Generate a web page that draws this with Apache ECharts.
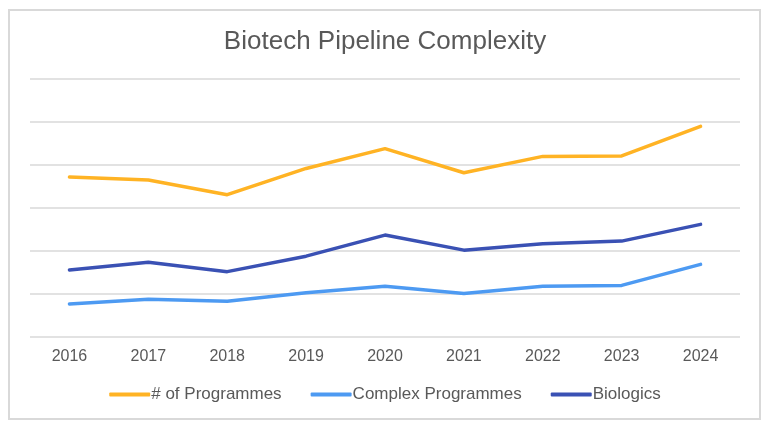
<!DOCTYPE html>
<html>
<head>
<meta charset="utf-8">
<script src="https://cdn.jsdelivr.net/npm/echarts@6/dist/echarts.min.js"></script>
<style>
html,body{margin:0;padding:0;background:#fff;}
#wrap{position:absolute;left:8px;top:9px;width:753px;height:411px;border:2px solid #d9d9d9;box-sizing:border-box;}
#chart{position:absolute;left:0;top:0;width:770px;height:426px;}
</style>
</head>
<body>
<div id="wrap"></div>
<div id="chart"></div>
<script>
const years = ['2016','2017','2018','2019','2020','2021','2022','2023','2024'];
const programmes = [372, 365, 331, 392, 438, 382, 420, 421, 490];
const complexProgrammes = [77, 88, 83, 103, 118, 101, 118, 120, 169];
const biologics = [156, 174, 152, 188, 237, 202, 217, 223, 262];

const chart = echarts.init(document.getElementById('chart'), null, {renderer:'canvas'});
const font = 'Liberation Sans, Arial, sans-serif';
function line(name, data, color){
  return {name, type:'line', data, showSymbol:false, symbol:'none',
    lineStyle:{width:3.5, color, cap:'round', join:'round'}, itemStyle:{color}};
}
chart.setOption({
  animation:false,
  title:{text:'Biotech Pipeline Complexity', left:'center', top:24,
    textStyle:{fontFamily:font, fontSize:26, fontWeight:'normal', color:'#595959'}},
  grid:{left:30, right:30, top:79, bottom:89},
  legend:{top:381, left:'center', icon:'roundRect', itemWidth:41, itemHeight:4, itemGap:29,
    textStyle:{fontFamily:font, fontSize:17, color:'#595959', padding:[0,0,0,-4]},
    data:['# of Programmes','Complex Programmes','Biologics']},
  xAxis:{type:'category', data:years, boundaryGap:true,
    axisLine:{show:false}, axisTick:{show:false},
    axisLabel:{fontFamily:font, fontSize:16, color:'#595959', margin:12}},
  yAxis:{type:'value', min:0, max:600, interval:100,
    axisLabel:{show:false}, axisLine:{show:false}, axisTick:{show:false},
    splitLine:{lineStyle:{color:'#d9d9d9', width:1.5}}},
  series:[
    line('# of Programmes', programmes, '#FFB324'),
    line('Complex Programmes', complexProgrammes, '#4D9AF2'),
    line('Biologics', biologics, '#3A51B4')
  ]
});
</script>
</body>
</html>
